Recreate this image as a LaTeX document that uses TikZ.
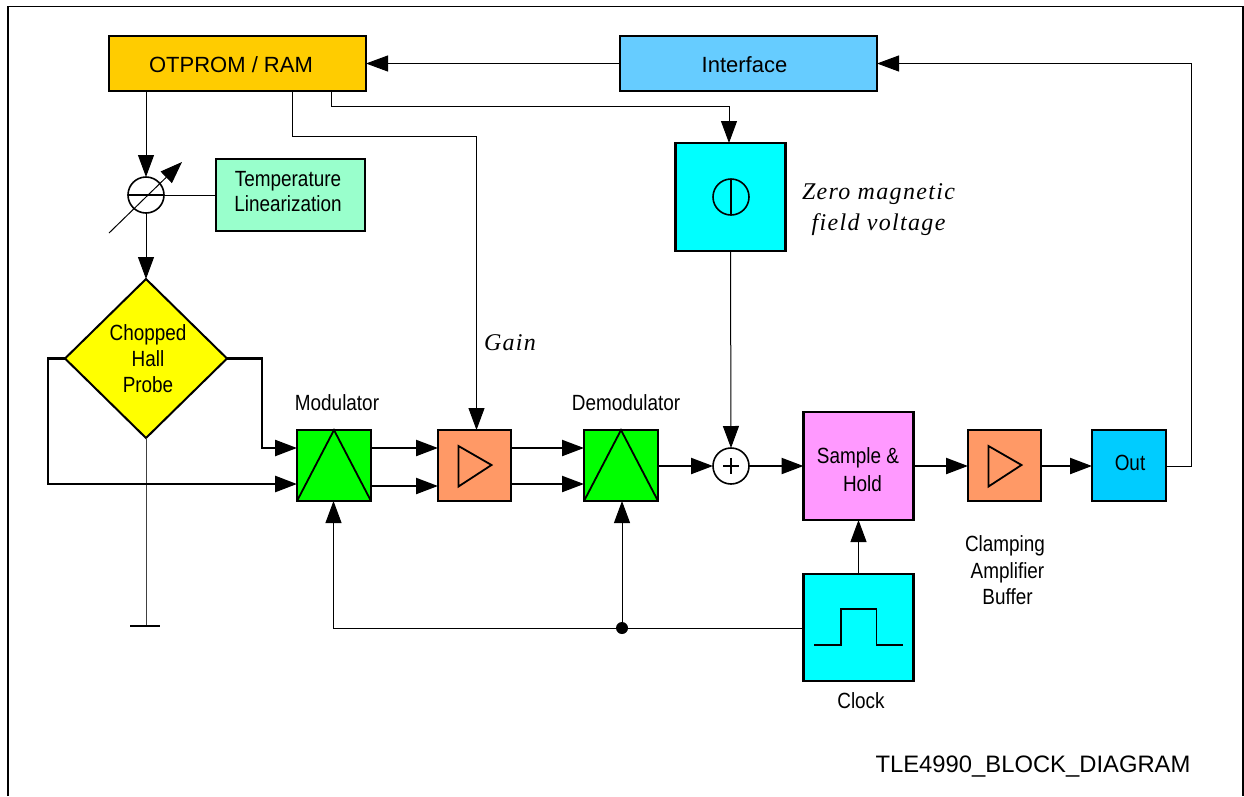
\documentclass[tikz,border=0pt]{standalone}
\usepackage{fontspec}
\setmainfont{Liberation Sans}
\newfontfamily\narrowfont[FakeStretch=0.86]{Liberation Sans}
\newfontfamily\slantfont[LetterSpace=5.5]{Liberation Serif Italic}
\usetikzlibrary{arrows.meta,shapes.geometric}
\definecolor{cOtp}{HTML}{FFCC00}
\definecolor{cIf}{HTML}{66CCFF}
\definecolor{cTemp}{HTML}{99FFCC}
\definecolor{cCyan}{HTML}{00FFFF}
\definecolor{cYel}{HTML}{FFFF00}
\definecolor{cGreen}{HTML}{00FF00}
\definecolor{cOrange}{HTML}{FF9966}
\definecolor{cPink}{HTML}{FF99FF}
\definecolor{cOut}{HTML}{00CCFF}
\tikzset{
 x=1pt,y=-1pt,
 block/.style={draw=black,line width=2.2pt,inner sep=0pt,outer sep=0pt,rectangle},
 sq/.style={block,minimum width=74pt,minimum height=71pt},
 big/.style={block,minimum width=110pt,minimum height=108pt},
 wide/.style={block,minimum width=257pt,minimum height=55pt,font=\fontsize{22}{26}\selectfont},
 circ/.style={circle,draw=black,fill=white,line width=1.6pt,minimum size=36pt,inner sep=0pt,outer sep=0pt},
 lab/.style={font=\fontsize{22}{26}\narrowfont,align=center,inner sep=0pt},
 ital/.style={font=\fontsize{24}{31}\slantfont,align=center,inner sep=0pt},
 thinline/.style={line width=1pt,draw=black},
 thickline/.style={line width=2.2pt,draw=black},
 tip/.style={-{Triangle[length=22pt,width=16pt]}},
 glyph/.style={line width=1.8pt,draw=black,line join=miter},
}
\begin{document}
\begin{tikzpicture}
\useasboundingbox (0,0) rectangle (1244,796);
\draw[line width=1.2pt] (8,796) -- (8,6.5) -- (1243,6.5) -- (1243,796);
% blocks
\node[wide,fill=cOtp] (otp) at (237.5,63.5) {};
\node[wide,fill=cIf] (iface) at (748.5,63.5) {};
\node[big,fill=cCyan] (zero) at (730.5,197) {};
\node[block,fill=cTemp,minimum width=149pt,minimum height=72pt] (temp) at (290.5,195) {};
\node[circ] (adj) at (146,195) {};
\node[diamond,aspect=1,draw=black,fill=cYel,line width=2pt,inner sep=0pt,outer sep=0pt,minimum width=162pt,minimum height=159pt] (hall) at (146,358.5) {};
\node[sq,fill=cGreen] (mod) at (334,465.5) {};
\node[sq,fill=cOrange,minimum width=73pt] (amp) at (474.5,465.5) {};
\node[sq,fill=cGreen] (demod) at (621,465.5) {};
\node[circ] (sum) at (731,466) {};
\node[big,fill=cPink] (sh) at (858.5,466) {};
\node[sq,fill=cOrange,minimum width=73pt] (clamp) at (1004.5,465.5) {};
\node[sq,fill=cOut] (out) at (1129,465.5) {};
\node[big,fill=cCyan,minimum height=107pt] (clock) at (858.5,627.5) {};
% texts
\node[font=\fontsize{22}{26}\selectfont,inner sep=0pt] (totp) at (231,65) {OTPROM / RAM};
\node[font=\fontsize{22}{26}\selectfont,inner sep=0pt] (tif) at (744.5,65) {Interface};
\node[lab] (ttemp) at (288,191.5) {Temperature\\[-1pt]Linearization};
\node[lab] (thall) at (148,359) {Chopped\\Hall\\Probe};
\node[lab] (tmod) at (337,403) {Modulator};
\node[lab] (tdem) at (626,403) {Demodulator};
\node[lab,align=center] (tsh) at (858,470) {Sample \&\\[2pt]\hspace{9pt}Hold};
\node[lab] (tout) at (1130,463) {Out};
\node[lab] (tclamp) at (1005,570) {Clamping\\[1pt]\hspace{5pt}Amplifier\\\hspace{5pt}Buffer};
\node[lab] (tclock) at (861,701) {Clock};
\node[ital] (tgain) at (510,342.5) {Gain};
\node[ital] (tzero) at (878.5,209.5) {Zero magnetic\\field voltage};
\node[font=\fontsize{23.8}{28}\selectfont,inner sep=0pt] (ttitle) at (1033,767) {TLE4990\_BLOCK\_DIAGRAM};
% helper coordinates
\coordinate (gnd) at (146,626);
\coordinate (gl) at (130,626);
\coordinate (gr) at (160,626);
\coordinate (gainknee) at (292,136);
\coordinate (gainx) at (476.5,136);
\coordinate (zeroknee) at (331,106);
\coordinate (zerox) at (729,106);
\coordinate (retx) at (1191,466);
\coordinate (hl) at (48,358.5);
\coordinate (hr) at (262,358.5);
\coordinate (modlow) at (0,484);
\coordinate (modup) at (0,448);
\coordinate (out2) at (0,486);
\coordinate (clockx) at (333.5,628);
\coordinate (dot) at (622,628);
\coordinate (adjA) at (109,233);
\coordinate (adjB) at (182,162);
% connectors
\draw[thinline,tip] (iface.west) -- (otp.east);
\draw[thinline,tip] (out.east |- retx) -- (retx) |- (iface.east);
\draw[thinline,tip] (adj.north |- otp.south) -- (adj.north);
\draw[thinline,tip] (adj.south) -- (hall.north);
\draw[thinline] (adj.east) -- (temp.west);
\draw[thinline,tip] (adjA) -- (adjB);
\draw[thinline,tip] (gainknee |- otp.south) -- (gainknee) -- (gainx) -- (gainx |- amp.north);
\draw[thinline,tip] (zeroknee |- otp.south) -- (zeroknee) -- (zerox) -- (zerox |- zero.north);
\draw[thinline,draw=black!75] (hall.south) -- (gnd);
\draw[line width=2.4pt] (gl) -- (gr);
\draw[line width=2.8pt,tip] (hall.west) -- (hl) |- (mod.west |- modlow);
\draw[line width=2.4pt,tip] (hall.east) -- (hr) |- (mod.west |- modup);
\draw[thickline,tip] (mod.east |- modup) -- (amp.west |- modup);
\draw[thickline,tip] (mod.east |- out2) -- (amp.west |- out2);
\draw[thickline,tip] (amp.east |- modup) -- (demod.west |- modup);
\draw[thickline,tip] (amp.east |- modlow) -- (demod.west |- modlow);
\draw[thickline,tip] (demod.east |- sum) -- (sum.west);
\draw[thickline,tip] (sum.east) -- (sh.west);
\draw[thickline,tip] (sh.east) -- (clamp.west |- sh.east);
\draw[thickline,tip] (clamp.east |- sh.east) -- (out.west |- sh.east);
\draw[thinline,tip] (zero.south) -- (sum.north);
\draw[thinline,tip] (clock.north) -- (sh.south);
\draw[thinline,tip] (clock.west |- dot) -- (clockx) -- (clockx |- mod.south);
\draw[thinline,tip] (dot) -- (dot |- demod.south);
\fill (dot) circle (6pt);
% block glyphs
\draw[line width=2.2pt] (adj.west) -- (adj.east);
\draw[glyph] (mod.south west) -- (mod.north) -- (mod.south east);
\draw[glyph] (demod.south west) -- (demod.north) -- (demod.south east);
\draw[glyph] (458.5,446) -- (491.5,465) -- (458.5,486.5) -- cycle;
\draw[glyph] (988.5,446) -- (1021.5,465) -- (988.5,486.5) -- cycle;
\draw[glyph] (723,466) -- (739,466) (731,458) -- (731,474);
\node[circ,fill=none] (zc) at (731,197) {};
\draw[glyph] (zc.north) -- (zc.south);
\draw[glyph] (814,645) -- (841,645) -- (841,609) -- (876.5,609) -- (876.5,645) -- (903,645);
\end{tikzpicture}
\end{document}
